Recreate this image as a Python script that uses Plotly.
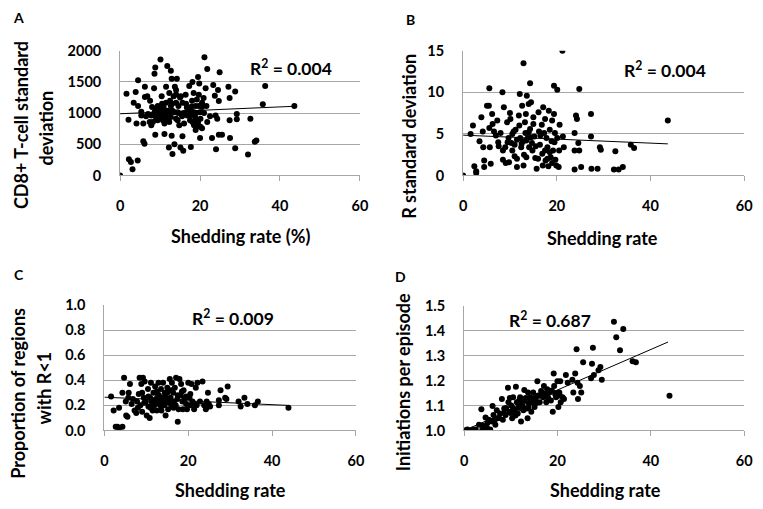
import plotly.graph_objects as go

# panel A: shedding rate (%) vs CD8+ T-cell standard deviation
a_x = [0, 1.6, 2.2, 2.7, 3.1, 4.4, 2.1, 3.4, 3.9, 4.5, 4.5, 4.1, 5.3, 5.3, 5.8, 5.8, 6.1, 6.2, 6.8, 6.2,
       7.0, 7.4, 7.8, 8.5, 8.6, 8.8, 8.6, 9.0, 8.8, 9.4, 9.4, 9.9, 10.1, 10.3, 10.4, 10.7, 10.7, 10.9, 11.1, 11.1,
       11.5, 11.5, 11.8, 11.9, 11.9, 12.2, 12.3, 12.3, 12.7, 12.7, 12.9, 12.9, 13.1, 13.4, 13.6, 13.7, 14.0, 14.0, 14.2, 13.6,
       14.4, 14.6, 14.8, 15.1, 15.2, 15.4, 15.6, 15.6, 15.8, 16.0, 16.4, 16.7, 16.8, 17.3, 17.5, 17.7, 17.9, 18.1, 18.1, 18.4,
       18.5, 18.7, 18.9, 18.9, 19.2, 19.3, 19.5, 19.7, 19.8, 20.0, 20.1, 20.0, 20.5, 21.1, 21.4, 21.6, 21.8, 21.8, 23.0, 23.3,
       23.7, 23.9, 24.0, 24.3, 24.5, 24.7, 24.7, 24.9, 25.5, 27.1, 27.4, 27.4, 27.5, 28.8, 28.8, 29.2, 29.2, 32.0, 32.6, 33.7,
       34.1, 35.7, 36.3, 43.6,
       9.2, 9.5, 9.8, 10.2, 10.7, 11.1, 11.5, 11.9, 12.3, 12.7, 13.1, 14.0, 14.4, 7.8, 8.2, 16.8, 17.7, 18.5, 18.1, 18.9,
       19.3, 17.3, 20.1, 19.7, 20.9, 20.5,
       8.0, 9.0, 10.0, 11.0, 12.0, 13.0, 14.5, 15.5, 16.5, 17.0, 19.0, 18.0, 20.5, 12.5, 15.0, 16.0, 17.5, 10.5, 6.5, 7.5,
       22.5, 14.0, 19.5, 21.0]
a_y = [0, 1310, 260, 215, 100, 240, 895, 1167, 1337, 1527, 1115, 833, 1023, 961, 833, 550, 509, 1424, 1270, 1260,
       987, 859, 807, 1398, 1630, 1733, 1013, 920, 653, 1116, 884, 961, 1861, 1039, 1270, 910, 987, 1090, 833, 663,
       1424, 1167, 1758, 1039, 936, 447, 1321, 859, 1116, 1681, 1553, 637, 345, 1270, 1013, 1424, 1373, 1167, 1553, 499,
       884, 1116, 807, 447, 1270, 987, 1167, 627, 396, 833, 1296, 1090, 961, 1434, 884, 458, 1105, 1501, 1013, 1321,
       807, 961, 1116, 730, 1218, 884, 1578, 1296, 1475, 1013, 781, 601, 756, 1897, 1398, 1116, 1707, 859, 601, 1450,
       1280, 961, 422, 910, 1373, 1193, 653, 1655, 653, 1424, 1244, 884, 601, 1347, 437, 987, 900, 334, 910, 540,
       560, 1141, 1434, 1116,
       961, 1023, 920, 972, 884, 1003, 910, 884, 987, 936, 1039, 910, 1013, 961, 859, 1090, 1039, 1013, 859, 910,
       807, 961, 910, 1116, 1244, 1167,
       1100, 1050, 1080, 950, 1000, 1150, 1000, 950, 1150, 1050, 1000, 1200, 1100, 1200, 1250, 1000, 950, 1150, 950, 1200,
       950, 1300, 850, 1000]

# panel B: shedding rate vs R standard deviation
b_x = [0, 1.6, 2.1, 2.4, 2.8, 2.8, 3.5, 3.9, 4.2, 4.3, 4.5, 4.5, 5.1, 5.5, 5.6, 5.6, 5.7, 5.9, 6.2, 6.3,
       6.6, 7.0, 7.3, 7.6, 8.0, 8.4, 8.5, 8.7, 9.0, 9.1, 9.4, 9.7, 9.8, 10.1, 10.3, 10.5, 10.8, 11.0, 11.2, 11.5,
       11.5, 11.9, 12.1, 12.2, 12.4, 12.6, 12.8, 12.9, 12.9, 13.2, 13.3, 13.4, 13.5, 13.6, 13.8, 14.0, 14.1, 14.3, 14.3, 14.5,
       14.7, 14.8, 15.0, 15.2, 15.4, 15.7, 16.1, 16.2, 16.4, 16.8, 16.9, 17.1, 17.3, 17.5, 17.6, 17.8, 18.0, 18.2, 18.3, 18.5,
       18.7, 18.9, 19.0, 19.2, 19.4, 19.4, 19.6, 19.7, 19.9, 20.1, 20.1, 20.4, 20.6, 21.2, 21.3, 21.5, 23.8, 23.8, 23.8, 24.1,
       24.3, 24.6, 24.8, 24.8, 25.2, 27.3, 27.3, 27.4, 28.7, 29.2, 29.4, 32.2, 32.5, 33.2, 34.1, 35.8, 36.5, 43.7,
       9.5, 10.5, 11.5, 12.5, 13.5, 14.5, 15.5, 16.5, 17.5, 18.5, 19.5, 13.0, 11.0, 16.0, 18.0, 19.0, 14.0, 12.0, 10.0, 15.0,
       7.5, 8.5, 20.5, 17.0]
b_y = [0, 5.0, 6.0, 1.1, 0.5, 0.3, 4.1, 7.0, 5.3, 3.4, 1.8, 1.0, 8.4, 8.4, 10.5, 5.7, 3.4, 1.4, 7.4, 6.2,
       5.3, 4.8, 6.6, 3.5, 5.1, 10.0, 1.9, 8.2, 3.4, 1.5, 6.4, 4.5, 1.6, 6.8, 3.9, 3.0, 5.3, 3.7, 5.5, 2.0,
       1.0, 7.2, 9.8, 4.5, 3.4, 8.4, 4.1, 13.5, 1.2, 6.4, 5.1, 7.4, 2.2, 9.6, 4.5, 8.6, 3.4, 11.1, 5.6, 8.8,
       3.9, 3.0, 6.2, 4.7, 2.1, 0.8, 7.6, 5.3, 3.7, 6.1, 2.6, 8.2, 5.1, 6.8, 1.8, 4.5, 3.4, 1.1, 7.8, 5.5,
       2.2, 4.1, 6.6, 3.0, 7.4, 10.8, 5.1, 1.9, 1.2, 10.3, 4.5, 1.0, 6.1, 15.0, 4.7, 3.4, 3.0, 5.1, 0.7, 7.2,
       6.8, 3.9, 10.4, 3.0, 1.0, 7.4, 4.7, 0.8, 0.8, 3.4, 3.1, 0.7, 2.9, 0.7, 1.0, 3.7, 3.3, 6.6,
       4.0, 5.0, 4.3, 3.8, 4.2, 4.6, 3.5, 4.8, 3.0, 2.8, 4.0, 2.5, 2.3, 2.0, 2.0, 1.5, 5.2, 6.0, 7.5, 7.0,
       4.0, 3.0, 3.0, 1.2]

# panel C: shedding rate vs proportion of regions with R<1
c_x = [1.6, 2.2, 2.7, 3.1, 3.5, 3.5, 4.3, 4.3, 4.7, 5.1, 5.2, 5.5, 5.7, 5.8, 6.1, 6.5, 6.8, 7.2, 7.6, 7.8,
       8.2, 8.4, 8.6, 8.8, 9.0, 9.2, 9.4, 9.6, 9.9, 10.1, 10.4, 10.5, 10.8, 10.9, 11.1, 11.3, 11.5, 11.7, 11.9, 12.1,
       12.3, 12.5, 12.7, 12.9, 13.0, 13.3, 13.5, 13.6, 13.8, 14.0, 14.3, 14.4, 14.6, 14.8, 15.0, 15.2, 15.6, 15.8, 16.0, 16.1,
       16.4, 16.6, 16.8, 17.1, 17.4, 17.5, 17.7, 17.9, 18.2, 18.3, 18.6, 18.7, 18.9, 19.1, 19.5, 19.7, 20.0, 20.3, 20.5, 20.8,
       21.0, 21.4, 21.8, 22.2, 22.8, 23.4, 23.8, 24.2, 24.4, 24.7, 24.9, 25.2, 27.3, 27.3, 27.7, 28.8, 29.1, 29.4, 32.0, 32.5,
       33.4, 34.1, 35.9, 36.6, 43.9,
       9.5, 10.5, 11.5, 12.5, 13.5, 14.5, 15.5, 16.5, 17.5, 18.5, 19.5, 20.5, 11.0, 13.0, 15.0, 17.0, 12.0, 14.0, 16.0, 9.0,
       22.0, 24.0, 21.5, 8.0]
c_y = [0.27, 0.16, 0.03, 0.03, 0.02, 0.18, 0.03, 0.30, 0.42, 0.23, 0.12, 0.11, 0.26, 0.30, 0.37, 0.21, 0.25, 0.16, 0.14, 0.23,
       0.29, 0.42, 0.20, 0.37, 0.15, 0.42, 0.26, 0.39, 0.23, 0.12, 0.33, 0.19, 0.10, 0.26, 0.38, 0.23, 0.16, 0.30, 0.20, 0.35,
       0.25, 0.16, 0.29, 0.38, 0.21, 0.24, 0.33, 0.16, 0.26, 0.38, 0.20, 0.30, 0.12, 0.24, 0.34, 0.17, 0.41, 0.26, 0.20, 0.38,
       0.30, 0.23, 0.34, 0.42, 0.25, 0.07, 0.17, 0.41, 0.28, 0.37, 0.23, 0.17, 0.32, 0.25, 0.21, 0.17, 0.38, 0.26, 0.20, 0.37,
       0.23, 0.17, 0.34, 0.38, 0.23, 0.39, 0.20, 0.17, 0.23, 0.30, 0.21, 0.19, 0.20, 0.24, 0.32, 0.26, 0.25, 0.35, 0.23, 0.19,
       0.26, 0.21, 0.20, 0.23, 0.18,
       0.22, 0.27, 0.21, 0.31, 0.19, 0.27, 0.22, 0.18, 0.28, 0.31, 0.27, 0.29, 0.18, 0.28, 0.30, 0.20, 0.24, 0.23, 0.32, 0.30,
       0.20, 0.20, 0.21, 0.18]

# panel D: shedding rate vs initiations per episode
d_x = [0.2, 0.7, 1.8, 2.5, 3.2, 3.7, 3.9, 4.6, 4.9, 5.3, 5.6, 6.0, 6.1, 6.3, 6.7, 7.0, 7.2, 7.7, 8.1, 8.3,
       8.6, 8.9, 9.4, 9.5, 9.7, 10.1, 10.3, 10.5, 10.9, 11.1, 11.3, 11.5, 11.7, 12.0, 12.2, 12.3, 12.7, 12.9, 13.0, 13.4,
       13.6, 13.7, 13.9, 14.1, 14.4, 14.6, 14.8, 15.1, 15.3, 15.7, 15.8, 16.2, 16.5, 16.9, 17.1, 17.4, 17.6, 17.8, 17.9, 18.3,
       18.6, 19.0, 19.2, 19.3, 19.5, 19.7, 20.0, 20.2, 20.4, 20.6, 20.7, 21.1, 21.4, 21.8, 22.2, 23.2, 23.4, 23.8, 24.1, 24.3,
       24.4, 24.8, 25.1, 25.5, 27.2, 27.4, 27.6, 27.8, 28.8, 29.2, 29.5, 32.1, 32.6, 33.4, 34.1, 36.1, 36.8, 44.0,
       8.5, 9.0, 10.0, 10.5, 11.0, 11.8, 12.5, 13.2, 13.8, 14.2, 15.0, 15.5, 16.0, 16.8, 17.5, 18.0, 18.8, 19.8, 20.5, 12.0,
       7.5, 6.5, 5.0, 4.0, 9.8]
d_y = [1.0, 1.004, 1.003, 1.004, 1.023, 1.085, 1.003, 1.052, 1.01, 1.043, 1.004, 1.036, 1.098, 1.062, 1.023, 1.081, 1.049, 1.068, 1.126, 1.043,
       1.088, 1.062, 1.171, 1.113, 1.075, 1.10, 1.049, 1.133, 1.081, 1.175, 1.113, 1.068, 1.094, 1.133, 1.036, 1.107, 1.081, 1.162, 1.12, 1.088,
       1.049, 1.152, 1.107, 1.133, 1.075, 1.113, 1.152, 1.094, 1.126, 1.197, 1.139, 1.113, 1.158, 1.133, 1.178, 1.146, 1.113, 1.165, 1.133, 1.152,
       1.12, 1.075, 1.229, 1.178, 1.146, 1.133, 1.197, 1.094, 1.152, 1.197, 1.113, 1.133, 1.126, 1.223, 1.191, 1.204, 1.152, 1.229, 1.326, 1.191,
       1.126, 1.178, 1.152, 1.274, 1.21, 1.268, 1.332, 1.223, 1.242, 1.255, 1.204, 1.436, 1.374, 1.322, 1.407, 1.278, 1.274, 1.139,
       1.07, 1.09, 1.07, 1.09, 1.06, 1.12, 1.10, 1.13, 1.09, 1.12, 1.13, 1.11, 1.14, 1.15, 1.14, 1.13, 1.16, 1.15, 1.14, 1.09,
       1.05, 1.04, 1.03, 1.02, 1.13]

# linear trend lines (end points)
trend_x = [0, 43.7]
trend_a = [990, 1110]
trend_b = [4.85, 3.8]
trend_c = [0.265, 0.2]
trend_d = [1.0, 1.355]

r2_labels = ["R<sup>2</sup> = 0.004", "R<sup>2</sup> = 0.004", "R<sup>2</sup> = 0.009", "R<sup>2</sup> = 0.687"]
panel_letters = ["A", "B", "C", "D"]

# the page body has an 8px margin, so the figure is drawn 8px in from the corner
OFF = 8
W, H = 763 - OFF, 509 - OFF
FONT = "Lato"
GRID = "#a6a6a6"
CLEAR = "rgba(0,0,0,0)"


def px(x):
    return (x - OFF) / W


def py(y):
    return 1 - (y - OFF) / H


fig = go.Figure()

panels = [
    # (xaxis, yaxis, x data, y data, trend, y range, dtick, tickformat)
    ("x", "y", a_x, a_y, trend_a, [0, 2000], 500, "d"),
    ("x2", "y2", b_x, b_y, trend_b, [0, 15], 5, "d"),
    ("x3", "y3", c_x, c_y, trend_c, [0, 1.0], 0.2, ".1f"),
    ("x4", "y4", d_x, d_y, trend_d, [1.0, 1.5], 0.1, ".1f"),
]

for i, (xa, ya, xs, ys, tr, _, _, _) in enumerate(panels):
    fig.add_trace(go.Scatter(x=xs, y=ys, xaxis=xa, yaxis=ya, mode="markers",
                             marker=dict(color="black", size=6), hoverinfo="skip"))
    fig.add_trace(go.Scatter(x=trend_x, y=tr, xaxis=xa, yaxis=ya, mode="lines",
                             line=dict(color="black", width=1), hoverinfo="skip"))
    # empty trace so the label-only x axis gets drawn
    fig.add_trace(go.Scatter(x=[], y=[], xaxis="x" + str(i + 5), yaxis=ya, hoverinfo="skip"))

# plot areas in screen pixels: left, right, top, bottom
boxes = [(118, 362, 43, 172), (467, 753, 43, 172), (102, 358, 306, 436), (468, 753, 307, 436)]

tick_font = dict(family=FONT, size=14.5, color="black", weight="bold")
layout = dict(width=W, height=H, margin=dict(l=0, r=0, t=0, b=0),
              paper_bgcolor="white", plot_bgcolor="white", showlegend=False)

for i, (box, p) in enumerate(zip(boxes, panels)):
    l, r, t, b = box
    sfx = "" if i == 0 else str(i + 1)
    # axis with the line and short tick marks
    layout["xaxis" + sfx] = dict(
        domain=[px(l), px(r)], range=[0, 60], dtick=20, anchor="y" + sfx,
        showgrid=False, zeroline=False, showline=True, linecolor=GRID, linewidth=1,
        ticks="outside", ticklen=5, tickcolor=GRID, showticklabels=False)
    # overlay axis carrying the tick labels further down
    layout["xaxis" + str(i + 5)] = dict(
        overlaying="x" + sfx, anchor="y" + sfx, range=[0, 60], dtick=20,
        showgrid=False, zeroline=False, showline=False,
        ticks="outside", ticklen=17, tickcolor=CLEAR, tickfont=tick_font)
    layout["yaxis" + sfx] = dict(
        domain=[py(b), py(t)], range=p[5], dtick=p[6], tickformat=p[7], anchor="x" + sfx,
        showgrid=True, gridcolor=GRID, gridwidth=1, zeroline=False,
        showline=True, linecolor=GRID, linewidth=1,
        ticks="outside", ticklen=15, tickcolor=CLEAR, tickfont=tick_font)

fig.update_layout(**layout)

title_font = dict(family=FONT, size=18, color="black", weight="bold")
ann = []


def add_text(text, x, y, font, angle=0):
    ann.append(dict(text=text, x=px(x), y=py(y), xref="paper", yref="paper",
                    showarrow=False, xanchor="center", yanchor="middle",
                    textangle=angle, font=font))


# x axis titles
add_text("Shedding rate (%)", 241, 235, title_font)
add_text("Shedding rate", 609, 237, title_font)
add_text("Shedding rate", 230, 498, title_font)
add_text("Shedding rate", 612, 498, title_font)

# y axis titles
add_text("CD8+ T-cell standard", 17, 120, title_font, -90)
add_text("deviation", 43, 123, title_font, -90)
add_text("R standard deviation", 412, 132, title_font, -90)
add_text("Proportion of regions", 14, 397, title_font, -90)
add_text("with R<1", 41, 392, title_font, -90)
add_text("Initiations per episode", 406, 386, title_font, -90)

# R squared labels
r2_font = dict(family=FONT, size=17.5, color="black", weight="bold")
for lab, (x, y) in zip(r2_labels, [(292, 60), (672, 62), (233, 319), (555, 321)]):
    add_text(lab, x, y, r2_font)

# panel letters
letter_font = dict(family=FONT, size=14, color="black", weight="bold")
for lab, (x, y) in zip(panel_letters, [(15, 9), (413, 11), (15, 275), (403, 277)]):
    add_text(lab, x, y, letter_font)

fig.update_layout(annotations=ann)

fig.write_html("out.html")
